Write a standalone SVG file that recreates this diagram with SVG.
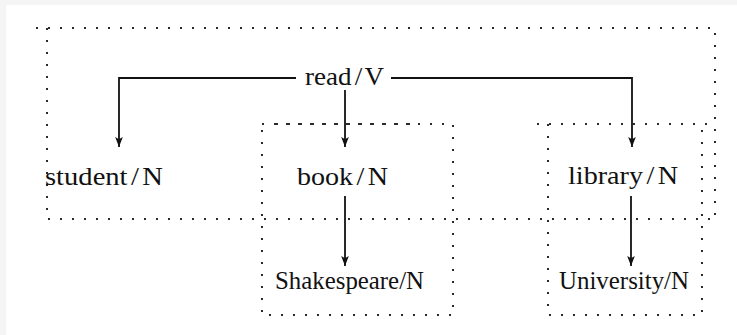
<svg xmlns="http://www.w3.org/2000/svg" width="737" height="335" viewBox="0 0 737 335">
<defs>
<style>
.lbl{font-family:"Liberation Serif","Times New Roman",serif;font-size:25px;fill:#111}
.dot{fill:none;stroke:#2a2a2a;stroke-width:2;stroke-dasharray:2 10}
.edge{fill:none;stroke:#111;stroke-width:1.8}
</style>
<marker id="ah" viewBox="0 0 10 10" refX="10" refY="5" markerWidth="10" markerHeight="10" markerUnits="userSpaceOnUse" orient="auto">
<path d="M0,1.2 L10,5 L0,8.8 L2.2,5 Z" fill="#111"/>
</marker>
</defs>
<rect width="737" height="335" fill="#f5f5f5"/>
<rect x="6" y="5" width="731" height="330" fill="#fff"/>
<g id="frames">
<path class="dot" d="M36,28 H715 V219"/>
<path class="dot" d="M47,28 V219 H715"/>
<path class="dot" d="M262,124 H453 V315 H262 Z"/>
<path class="dot" d="M276,124 H418"/>
<path class="dot" d="M537,124 H715"/>
<path class="dot" d="M548,124 V315 H702 V124"/>
</g>
<g id="connectors">
<path class="edge" d="M296,78 H119 V147" marker-end="url(#ah)"/>
<path class="edge" d="M345,90 V147" marker-end="url(#ah)"/>
<path class="edge" d="M391,78 H632 V147" marker-end="url(#ah)"/>
<path class="edge" d="M345,196 V266" marker-end="url(#ah)"/>
<path class="edge" d="M631,196 V266" marker-end="url(#ah)"/>
</g>
<g id="read"><text class="lbl" x="305" y="85" textLength="79" lengthAdjust="spacingAndGlyphs">read<tspan dx="3">/</tspan><tspan dx="2">V</tspan></text></g>
<g id="student"><text class="lbl" x="45" y="185" textLength="118" lengthAdjust="spacingAndGlyphs">student<tspan dx="3">/</tspan><tspan dx="3">N</tspan></text></g>
<g id="book"><text class="lbl" x="297" y="185" textLength="91" lengthAdjust="spacingAndGlyphs">book<tspan dx="3">/</tspan><tspan dx="3">N</tspan></text></g>
<g id="library"><text class="lbl" x="568" y="184" textLength="110" lengthAdjust="spacingAndGlyphs">library<tspan dx="3">/</tspan><tspan dx="3">N</tspan></text></g>
<g id="shakespeare"><text class="lbl" x="275" y="289" textLength="149" lengthAdjust="spacingAndGlyphs">Shakespeare/N</text></g>
<g id="university"><text class="lbl" x="559" y="289" textLength="130" lengthAdjust="spacingAndGlyphs">University/N</text></g>
</svg>
